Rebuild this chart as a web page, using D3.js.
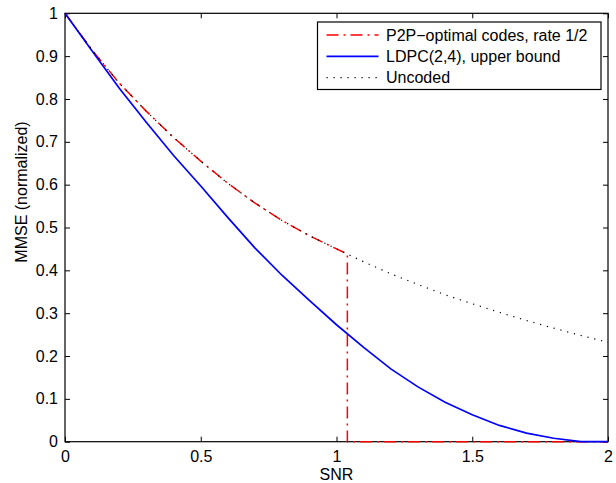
<!DOCTYPE html>
<html>
<head>
<meta charset="utf-8">
<script src="https://cdn.jsdelivr.net/npm/d3@7"></script>
<style>
  body { margin: 0; background: #fff; }
  text { font-family: "Liberation Sans", Arial, sans-serif; fill: #000; }
</style>
</head>
<body>
<script>
// valeurs
const snr = [0, 0.1, 0.2, 0.3, 0.4, 0.5, 0.6, 0.7, 0.8, 0.9, 1.0, 1.1, 1.2, 1.3, 1.4, 1.5, 1.6, 1.7, 1.8, 1.9, 2.0];
const uncoded = [1, 0.914, 0.837, 0.771, 0.71, 0.655, 0.603, 0.557, 0.516, 0.481, 0.450, 0.420, 0.392, 0.367, 0.343, 0.322, 0.302, 0.283, 0.265, 0.248, 0.232];
const ldpc = [1, 0.912, 0.825, 0.745, 0.668, 0.597, 0.523, 0.452, 0.388, 0.330, 0.273, 0.220, 0.170, 0.128, 0.092, 0.063, 0.038, 0.020, 0.008, 0.0, 0.0];
// P2P : suit le non codé puis chute à 0 au seuil
const p2pSnr = [0, 0.1, 0.2, 0.3, 0.4, 0.5, 0.6, 0.7, 0.8, 0.9, 1.0, 1.04, 1.04, 2.0];
const p2pVal = [1, 0.914, 0.837, 0.771, 0.71, 0.655, 0.603, 0.557, 0.516, 0.481, 0.450, 0.438, 0, 0];

const xTicks = [0, 0.5, 1, 1.5, 2];
const yTicks = [0, 0.1, 0.2, 0.3, 0.4, 0.5, 0.6, 0.7, 0.8, 0.9, 1];
const legendLabels = ["P2P\u2212optimal codes, rate 1/2", "LDPC(2,4), upper bound", "Uncoded"];

const W = 616, H = 483;
const margin = { top: 13.3, right: 8, bottom: 41.3, left: 65 };
const width = W - margin.left - margin.right,
      height = H - margin.top - margin.bottom;

const svg = d3.select("body").append("svg")
    .attr("width", W)
    .attr("height", H);

const g = svg.append("g")
    .attr("transform", "translate(" + margin.left + "," + margin.top + ")");

const x = d3.scaleLinear().domain([0, 2]).range([0, width]);
const y = d3.scaleLinear().domain([0, 1]).range([height, 0]);

// axes (ticks vers l'intérieur, façon matlab)
const tick = 5;
g.append("g")
    .attr("transform", "translate(0," + height + ")")
    .call(d3.axisBottom(x).tickValues(xTicks).tickSize(-tick).tickPadding(9).tickFormat(d3.format("")))
    .call(a => a.select(".domain").remove())
    .selectAll("text").style("font-size", "16px");

g.append("g")
    .call(d3.axisTop(x).tickValues(xTicks).tickSize(-tick).tickFormat(""))
    .call(a => a.select(".domain").remove());

g.append("g")
    .call(d3.axisLeft(y).tickValues(yTicks).tickSize(-tick).tickPadding(7).tickFormat(d3.format("")))
    .call(a => a.select(".domain").remove())
    .selectAll("text").style("font-size", "16px");

g.append("g")
    .attr("transform", "translate(" + width + ",0)")
    .call(d3.axisRight(y).tickValues(yTicks).tickSize(-tick).tickFormat(""))
    .call(a => a.select(".domain").remove());

g.selectAll(".tick line").attr("stroke", "#000");

g.append("rect")
    .attr("width", width)
    .attr("height", height)
    .attr("fill", "none")
    .attr("stroke", "#000")
    .attr("stroke-width", 1.2);

// courbes
const line = d3.line().x(d => x(d[0])).y(d => y(d[1]));

g.append("path")
    .datum(p2pSnr.map((s, i) => [s, p2pVal[i]]))
    .attr("d", line)
    .attr("fill", "none")
    .attr("stroke", "#ff0000")
    .attr("stroke-width", 1.5)
    .attr("stroke-dasharray", "12,5,2,5");

g.append("path")
    .datum(snr.map((s, i) => [s, ldpc[i]]))
    .attr("d", line)
    .attr("fill", "none")
    .attr("stroke", "#0000ff")
    .attr("stroke-width", 1.7);

g.append("path")
    .datum(snr.map((s, i) => [s, uncoded[i]]))
    .attr("d", line)
    .attr("fill", "none")
    .attr("stroke", "#000")
    .attr("stroke-width", 1.2)
    .attr("stroke-dasharray", "1.2,5.8");

// labels
svg.append("text")
    .text("SNR")
    .attr("text-anchor", "middle")
    .attr("x", margin.left + width / 2)
    .attr("y", 480)
    .style("font-size", "16px");

svg.append("text")
    .text("MMSE (normalized)")
    .attr("text-anchor", "middle")
    .attr("transform", "translate(27,192) rotate(-90)")
    .style("font-size", "16px");

// légende
const leg = svg.append("g").attr("transform", "translate(317.5,22)");
leg.append("rect")
    .attr("width", 283.5)
    .attr("height", 67.5)
    .attr("fill", "#fff")
    .attr("stroke", "#000")
    .attr("stroke-width", 1.2);

const legStyles = [
    { color: "#ff0000", dash: "12,5,2,5", w: 1.5 },
    { color: "#0000ff", dash: null, w: 1.7 },
    { color: "#000", dash: "1.2,5.8", w: 1.2 }
];
legendLabels.forEach((lab, i) => {
    const yy = 13 + i * 21.3;
    leg.append("line")
        .attr("x1", 9).attr("x2", 61)
        .attr("y1", yy).attr("y2", yy)
        .attr("stroke", legStyles[i].color)
        .attr("stroke-width", legStyles[i].w)
        .attr("stroke-dasharray", legStyles[i].dash);
    leg.append("text")
        .text(lab)
        .attr("x", 68.5)
        .attr("y", yy + 5.6)
        .style("font-size", "16px");
});
</script>
</body>
</html>
